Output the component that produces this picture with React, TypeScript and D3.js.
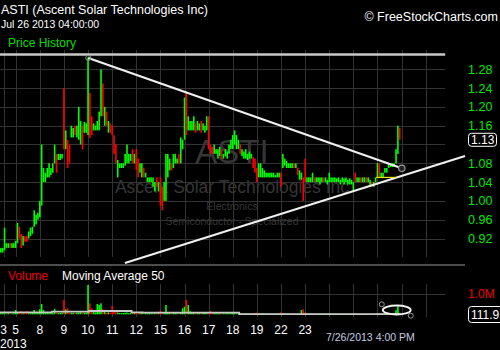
import React, { useEffect } from 'react';
import * as d3 from 'd3';

const W = 500;
const H = 350;

// ---- data (half-hour bars, index 0 = Jul 2 afternoon) ----
const lows = [
  0.89, 0.89, 0.895, 0.90, 0.90, 0.90, 0.90, 0.90, 0.90, 0.91,
  0.92, 0.90, 0.905, 0.913, 0.913, 0.92, 0.925, 0.93, 0.945, 0.95,
  0.96, 0.965, 0.99, 1.04, 1.04, 1.05, 1.05, 1.055, 1.06, 1.08,
  1.06, 1.087, 1.087, 1.09, 1.11, 1.11, 1.07, 1.08, 1.135, 1.135,
  1.14, 1.135, 1.13, 1.12, 1.11, 1.145, 1.145, 1.14, 1.134, 1.14,
  1.15, 1.15, 1.15, 1.15, 1.18, 1.18, 1.16, 1.16, 1.145, 1.145,
  1.14, 1.10, 1.08, 1.05, 1.07, 1.07, 1.07, 1.075, 1.08, 1.08,
  1.085, 1.08, 1.08, 1.066, 1.05, 1.06, 1.05, 1.05, 1.05, 1.04,
  1.04, 1.04, 1.03, 1.02, 1.03, 1.02, 0.99, 0.98, 1.00, 1.00,
  1.05, 1.065, 1.065, 1.07, 1.08, 1.08, 1.08, 1.08, 1.11, 1.13,
  1.14, 1.15, 1.15, 1.15, 1.15, 1.145, 1.15, 1.15, 1.145, 1.15,
  1.145, 1.15, 1.11, 1.10, 1.10, 1.10, 1.10, 1.09, 1.095, 1.09,
  1.09, 1.095, 1.09, 1.10, 1.11, 1.11, 1.12, 1.11, 1.11, 1.10,
  1.095, 1.09, 1.09, 1.087, 1.09, 1.09, 1.07, 1.06, 1.04, 1.05,
  1.05, 1.05, 1.05, 1.05, 1.05, 1.05, 1.05, 1.05, 1.05, 1.05,
  1.05, 1.03, 1.07, 1.075, 1.07, 1.07, 1.07, 1.07, 1.07, 1.07,
  1.055, 1.045, 1.045, 1.00, 1.04, 1.04, 1.04, 1.04, 1.04, 1.04,
  1.04, 1.04, 1.035, 1.04, 1.04, 1.04, 1.035, 1.04, 1.04, 1.04,
  1.04, 1.04, 1.04, 1.035, 1.04, 1.035, 1.04, 1.035, 1.035, 1.035,
  1.02, 1.04, 1.04, 1.04, 1.04, 1.04, 1.04, 1.04, 1.04, 1.03,
  1.03, 1.03, 1.04, 1.05, 1.05, 1.05, 1.05, 1.06, 1.06, 1.07,
  1.072, 1.072, 1.072, 1.08, 1.10, 1.13,
];

const highs = [
  0.90, 0.90, 0.943, 0.91, 0.91, 0.91, 0.91, 0.91, 0.915, 0.953,
  0.945, 0.93, 0.925, 0.925, 0.925, 0.935, 0.943, 0.945, 0.98, 0.97,
  0.975, 1.00, 1.12, 1.07, 1.06, 1.07, 1.08, 1.07, 1.08, 1.12,
  1.10, 1.10, 1.10, 1.10, 1.24, 1.15, 1.13, 1.12, 1.16, 1.155,
  1.16, 1.16, 1.20, 1.17, 1.16, 1.168, 1.165, 1.305, 1.23, 1.18,
  1.165, 1.16, 1.17, 1.19, 1.28, 1.25, 1.20, 1.19, 1.17, 1.165,
  1.16, 1.14, 1.12, 1.087, 1.08, 1.08, 1.08, 1.10, 1.12, 1.10,
  1.10, 1.11, 1.10, 1.11, 1.09, 1.08, 1.08, 1.07, 1.06, 1.05,
  1.05, 1.05, 1.05, 1.04, 1.05, 1.04, 1.05, 1.03, 1.04, 1.10,
  1.10, 1.09, 1.08, 1.10, 1.10, 1.09, 1.10, 1.135, 1.13, 1.22,
  1.23, 1.18, 1.17, 1.17, 1.18, 1.165, 1.17, 1.165, 1.17, 1.165,
  1.16, 1.18, 1.18, 1.12, 1.115, 1.12, 1.11, 1.11, 1.115, 1.11,
  1.10, 1.11, 1.105, 1.12, 1.13, 1.14, 1.15, 1.14, 1.13, 1.12,
  1.11, 1.105, 1.11, 1.10, 1.105, 1.10, 1.093, 1.09, 1.07, 1.08,
  1.08, 1.07, 1.065, 1.06, 1.06, 1.06, 1.06, 1.06, 1.055, 1.06,
  1.06, 1.06, 1.10, 1.09, 1.085, 1.08, 1.08, 1.08, 1.08, 1.08,
  1.07, 1.065, 1.06, 1.05, 1.09, 1.05, 1.05, 1.05, 1.06, 1.05,
  1.05, 1.05, 1.05, 1.05, 1.05, 1.05, 1.045, 1.06, 1.05, 1.05,
  1.05, 1.048, 1.05, 1.045, 1.05, 1.048, 1.05, 1.045, 1.048, 1.045,
  1.04, 1.06, 1.05, 1.05, 1.05, 1.05, 1.05, 1.05, 1.05, 1.045,
  1.04, 1.04, 1.05, 1.08, 1.08, 1.06, 1.06, 1.07, 1.07, 1.08,
  1.08, 1.08, 1.08, 1.11, 1.16, 1.155,
];

// g = up bar, r = down bar
const barDirections =
  'gggggrgggg' + 'rrgrrggggg' + 'gggggggggg' + 'rgggrgrrgg' + 'rgggrgggrr' +
  'gggggrgrgr' + 'rrrggggggg' + 'grgrrggrgg' + 'ggggrgrrgg' + 'ggrgggrggg' +
  'rggggrggrg' + 'ggrrrggggr' + 'gggggggggr' + 'ggggggrrrg' + 'gggggggggg' +
  'grggggggrg' + 'rggrrggggr' + 'ggggrggggg' + 'gggggggggg' + 'grggrggrgg' +
  'rgggrggggg' + 'gggggr';

// volume in thousands of shares
const volumes = [
  60, 100, 50, 40, 60, 50, 40, 50, 215, 70,
  60, 165, 50, 60, 165, 50, 60, 70, 215, 60,
  80, 250, 515, 215, 90, 70, 60, 80, 70, 265,
  90, 60, 70, 80, 715, 250, 300, 90, 80, 70,
  60, 80, 90, 100, 90, 70, 80, 1465, 550, 300,
  120, 100, 515, 465, 550, 250, 120, 90, 100, 80,
  415, 215, 110, 90, 70, 60, 70, 80, 90, 60,
  70, 80, 60, 90, 80, 60, 70, 50, 60, 50,
  60, 50, 40, 60, 70, 60, 180, 90, 70, 465,
  90, 70, 60, 80, 70, 60, 70, 80, 300, 380,
  715, 465, 150, 90, 80, 70, 60, 80, 70, 60,
  70, 60, 90, 165, 70, 60, 50, 60, 50, 60,
  50, 40, 60, 50, 60, 70, 60, 50, 40, 60,
  40, 30, 40, 30, 40, 30, 60, 70, 80, 40,
  30, 40, 30, 20, 30, 20, 30, 20, 30, 20,
  30, 100, 40, 30, 20, 30, 20, 30, 40, 20,
  40, 30, 215, 250, 90, 30, 20, 30, 20, 30,
  20, 30, 20, 30, 20, 30, 20, 30, 20, 30,
  20, 30, 20, 20, 30, 20, 30, 20, 20, 30,
  30, 40, 20, 30, 20, 30, 20, 30, 20, 30,
  30, 20, 30, 60, 70, 40, 30, 40, 30, 40,
  30, 40, 30, 200, 400, 80,
];

// Moving Average 50 of volume (thousands), step points by bar index
const maBars = [0, 28, 48, 71, 77, 129, 216];
const maValues = [100, 130, 165, 100, 80, 10, 10];

// sessions (July 2013)
const dayLabels = ['3', '5', '8', '9', '10', '11', '12', '15', '16', '17', '18', '19', '22', '23', '24', '25', '26', '29', '30'];
const sessionBars = [6.5, 13, 13, 13, 13, 13, 13, 13, 13, 13, 13, 13, 13, 13, 13, 13, 13, 13, 13];
const firstSessionStart = 2;

const priceTicks = [1.28, 1.24, 1.20, 1.16, 1.12, 1.08, 1.04, 1.00, 0.96, 0.92];
const lastPrice = 1.13;
const volumeTick = 1000;

// drawn annotations (bar index, price)
const trendDown = [[47.65, 1.304], [216.6, 1.0694]];
const trendUp = [[67.4, 0.868], [250.7, 1.0955]];
const topLinePrice = 1.3115;
const yellowLine = [[202.7, 1.05], [213.5, 1.05]];
const volumeEllipse = { bar: 213.9, vol: 215 };

const FONT = '"Liberation Sans", Arial, sans-serif';
const GRID = '#333333';
const UP = '#00ff00';
const DOWN = '#ff0000';

export default function App() {
  useEffect(() => {
    document.body.style.margin = '0';
    document.body.style.background = '#000';
  }, []);

  const x = d3.scaleLinear().domain([0, 240]).range([-0.1, 445.2]);
  const y = d3.scaleLinear().domain([0.92, 1.28]).range([238.5, 69.3]);
  const yv = d3.scaleLinear().domain([0, 1000]).range([314.3, 294.3]);

  const plotRight = x(240);
  const tagLeft = 322;

  const dayStarts: number[] = [];
  let s = firstSessionStart;
  sessionBars.forEach((len) => {
    dayStarts.push(s);
    s += len;
  });

  const maLine = d3
    .line<number>()
    .x((_, i) => x(maBars[i]))
    .y((v) => yv(v))
    .curve(d3.curveStepAfter)(maValues);

  const crisp = (v: number) => Math.round(v) + 0.5;

  return (
    <svg
      width={W}
      height={H}
      style={{ position: 'absolute', left: 0, top: 0, background: '#000', display: 'block' }}
      fontFamily={FONT}
    >
      <rect x={0} y={0} width={W} height={H} fill="#000" />

      {/* header */}
      <text x={1} y={14} fill="#fff" fontSize={12.5}>ASTI (Ascent Solar Technologies Inc)</text>
      <text x={1} y={28} fill="#fff" fontSize={10.5}>Jul 26 2013 04:00:00</text>
      <text x={8} y={47} fill="#00dd00" fontSize={12}>Price History</text>
      <text x={498} y={21} fill="#fff" fontSize={12.5} textAnchor="end">© FreeStockCharts.com</text>

      {/* price grid */}
      {priceTicks.map((t) => (
        <line key={'hg' + t} x1={0} x2={plotRight} y1={crisp(y(t))} y2={crisp(y(t))} stroke={GRID} strokeWidth={1} />
      ))}
      {dayStarts.map((d, i) => (
        <line key={'vg' + i} x1={crisp(x(d))} x2={crisp(x(d))} y1={50} y2={257} stroke={GRID} strokeWidth={1} />
      ))}

      {/* watermark */}
      <g fill="#363636" textAnchor="middle">
        <text x={232} y={163} fontSize={33}>ASTI</text>
        <text x={232} y={193} fontSize={17.5}>Ascent Solar Technologies Inc</text>
        <text x={232} y={210} fontSize={10.5}>Electronics</text>
        <text x={232} y={225} fontSize={10.5}>Semiconductor - Specialized</text>
      </g>

      {/* price bars */}
      {lows.map((lo, i) => {
        const top = y(highs[i]);
        const bot = y(lo);
        const h = Math.max(1, bot - top);
        return (
          <rect
            key={'b' + i}
            x={x(i + 0.5) - 0.8}
            y={top}
            width={1.6}
            height={h}
            fill={barDirections[i] === 'r' ? DOWN : UP}
          />
        );
      })}

      {/* annotations */}
      <line x1={0} x2={plotRight} y1={y(topLinePrice)} y2={y(topLinePrice)} stroke="#c8c8c8" strokeWidth={2.5} />
      <line
        x1={x(trendDown[0][0])} y1={y(trendDown[0][1])}
        x2={x(trendDown[1][0])} y2={y(trendDown[1][1])}
        stroke="#f0f0f0" strokeWidth={2}
      />
      <line
        x1={x(trendUp[0][0])} y1={y(trendUp[0][1])}
        x2={x(trendUp[1][0])} y2={y(trendUp[1][1])}
        stroke="#f0f0f0" strokeWidth={2}
      />
      <line
        x1={x(yellowLine[0][0])} y1={y(yellowLine[0][1])}
        x2={x(yellowLine[1][0])} y2={y(yellowLine[1][1])}
        stroke="#e8e000" strokeWidth={1.2}
      />
      <circle cx={x(trendDown[0][0])} cy={y(trendDown[0][1])} r={2.6} fill="none" stroke="#8a8a8a" strokeWidth={1} />
      <circle cx={x(trendDown[1][0])} cy={y(trendDown[1][1])} r={3.2} fill="#222" stroke="#9a9a9a" strokeWidth={1.2} />

      {/* price axis labels */}
      {priceTicks
        .filter((t) => Math.abs(y(t) - y(lastPrice)) > 10)
        .map((t) => (
          <text key={'pl' + t} x={468} y={y(t) + 4.5} fill="#00e600" fontSize={12.5}>
            {t.toFixed(2)}
          </text>
        ))}
      <rect x={468.5} y={y(lastPrice) - 6.5} width={28} height={13} rx={3} fill="#000" stroke="#fff" strokeWidth={1} />
      <text x={471} y={y(lastPrice) + 4.2} fill="#fff" fontSize={12}>{lastPrice.toFixed(2)}</text>

      {/* panel separator */}
      <line x1={0} x2={465} y1={265} y2={265} stroke="#9a9a9a" strokeWidth={1.2} />

      {/* volume panel */}
      <text x={8} y={280} fill="#ee0000" fontSize={12}>Volume</text>
      <text x={62} y={280} fill="#fff" fontSize={12}>Moving Average 50</text>
      <line x1={0} x2={plotRight} y1={crisp(yv(volumeTick))} y2={crisp(yv(volumeTick))} stroke={GRID} strokeWidth={1} />
      {dayStarts.map((d, i) => (
        <line key={'vv' + i} x1={crisp(x(d))} x2={crisp(x(d))} y1={284} y2={317} stroke={GRID} strokeWidth={1} />
      ))}
      {volumes.map((v, i) => (
        <rect
          key={'v' + i}
          x={x(i + 0.5) - 0.8}
          y={yv(v)}
          width={1.6}
          height={Math.max(0.8, yv(0) - yv(v))}
          fill={barDirections[i] === 'r' ? DOWN : UP}
        />
      ))}
      <path d={maLine || ''} fill="none" stroke="#c8c8c8" strokeWidth={1.8} />
      <ellipse
        cx={x(volumeEllipse.bar)} cy={yv(volumeEllipse.vol)}
        rx={14} ry={4.5} fill="none" stroke="#f4f4f4" strokeWidth={1.8}
      />
      <circle cx={x(volumeEllipse.bar) - 15} cy={yv(volumeEllipse.vol) - 5.7} r={2.5} fill="none" stroke="#999" strokeWidth={1} />
      <circle cx={x(volumeEllipse.bar) + 14} cy={yv(volumeEllipse.vol) + 5.7} r={2.5} fill="none" stroke="#999" strokeWidth={1} />
      <text x={468} y={297.5} fill="#ee0000" fontSize={12}>1.0M</text>
      <rect x={468.5} y={306.5} width={40} height={16} rx={3} fill="#000" stroke="#fff" strokeWidth={1} />
      <text x={471} y={319} fill="#fff" fontSize={12}>111.9</text>

      {/* date axis (labels under the crosshair tag are hidden, as in the source) */}
      {dayStarts.map((d, i) =>
        x(d) + 6 < tagLeft ? (
          <text key={'dl' + i} x={x(d)} y={334} fill="#fff" fontSize={12} textAnchor="middle">
            {dayLabels[i]}
          </text>
        ) : null
      )}
      <text x={0} y={348} fill="#fff" fontSize={12}>2013</text>
      <text x={326} y={341} fill="#c4cce0" fontSize={10.5}>7/26/2013 4:00 PM</text>
    </svg>
  );
}
